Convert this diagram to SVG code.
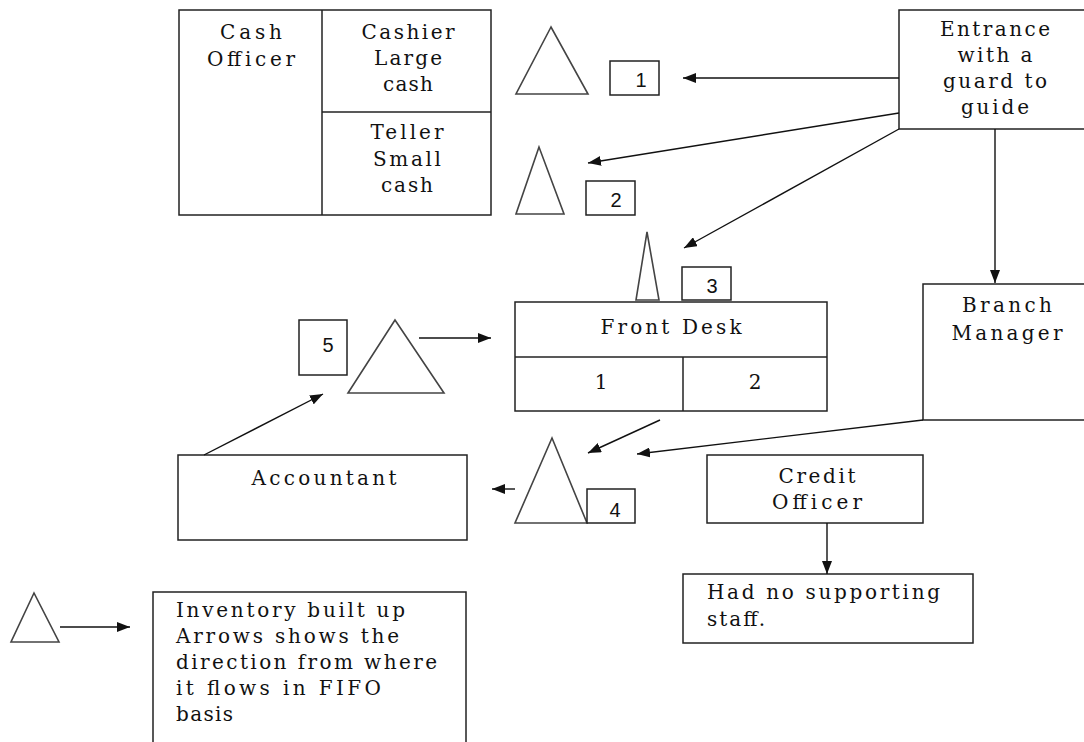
<svg xmlns="http://www.w3.org/2000/svg" width="1084" height="742" viewBox="0 0 1084 742">
<style>
.box{fill:#fff;stroke:#222;stroke-width:1.5}
.tri{fill:#fff;stroke:#444;stroke-width:1.6;stroke-linejoin:miter}
.t{font-family:"DejaVu Serif","Liberation Serif",serif;font-size:20px;fill:#111;text-anchor:middle}
.tl{font-family:"DejaVu Serif","Liberation Serif",serif;font-size:20px;fill:#111}
.n{font-family:"Liberation Sans",Arial,sans-serif;font-size:20px;fill:#111;text-anchor:middle}
.c{stroke:#111;stroke-width:1.4;fill:none;marker-end:url(#ah)}
</style>
<defs>
<marker id="ah" markerUnits="userSpaceOnUse" markerWidth="13" markerHeight="10" refX="13" refY="5" orient="auto">
<path d="M0,0 L13,5 L0,10 z" fill="#111"/>
</marker>
</defs>
<rect width="1084" height="742" fill="#fff"/>

<g id="cash-block">
<rect class="box" x="179" y="10" width="312" height="205"/>
<line x1="322" y1="10" x2="322" y2="215" stroke="#222" stroke-width="1.5"/>
<line x1="322" y1="112" x2="491" y2="112" stroke="#222" stroke-width="1.5"/>
<text class="t" x="251" y="39" textLength="62" lengthAdjust="spacing">Cash</text>
<text class="t" x="251" y="66" textLength="88" lengthAdjust="spacing">Officer</text>
<text class="t" x="408" y="39" textLength="93" lengthAdjust="spacing">Cashier</text>
<text class="t" x="408" y="65" textLength="68" lengthAdjust="spacing">Large</text>
<text class="t" x="408" y="91" textLength="50" lengthAdjust="spacing">cash</text>
<text class="t" x="407" y="139" textLength="73" lengthAdjust="spacing">Teller</text>
<text class="t" x="407" y="166" textLength="68" lengthAdjust="spacing">Small</text>
<text class="t" x="407" y="192" textLength="52" lengthAdjust="spacing">cash</text>
</g>

<g id="queue1">
<polygon class="tri" points="551,27 516,94 588,94"/>
<rect class="box" x="610" y="61" width="49" height="34"/>
<text class="n" x="641" y="87">1</text>
</g>
<g id="queue2">
<polygon class="tri" points="539,147 516,214 564,214"/>
<rect class="box" x="586" y="181" width="49" height="34"/>
<text class="n" x="616" y="207">2</text>
</g>
<g id="queue3">
<polygon class="tri" points="647,232 636,300 659,300"/>
<rect class="box" x="682" y="267" width="49" height="33"/>
<text class="n" x="712" y="293">3</text>
</g>
<g id="queue4">
<polygon class="tri" points="552,438 515,523 587,523"/>
<rect class="box" x="587" y="489" width="48" height="34"/>
<text class="n" x="615" y="517">4</text>
</g>
<g id="queue5">
<polygon class="tri" points="395,320 348,393 444,393"/>
<rect class="box" x="299" y="320" width="48" height="55"/>
<text class="n" x="328" y="352">5</text>
</g>

<g id="entrance">
<rect class="box" x="899" y="10" width="195" height="119"/>
<text class="t" x="995" y="36" textLength="110" lengthAdjust="spacing">Entrance</text>
<text class="t" x="995" y="62" textLength="75" lengthAdjust="spacing">with a</text>
<text class="t" x="995" y="88" textLength="104" lengthAdjust="spacing">guard to</text>
<text class="t" x="995" y="114" textLength="68" lengthAdjust="spacing">guide</text>
</g>

<g id="branch-manager">
<rect class="box" x="923" y="284" width="171" height="136"/>
<text class="t" x="1007" y="312" textLength="90" lengthAdjust="spacing">Branch</text>
<text class="t" x="1007" y="340" textLength="111" lengthAdjust="spacing">Manager</text>
</g>

<g id="front-desk">
<rect class="box" x="515" y="302" width="312" height="109"/>
<line x1="515" y1="357" x2="827" y2="357" stroke="#222" stroke-width="1.5"/>
<line x1="683" y1="357" x2="683" y2="411" stroke="#222" stroke-width="1.5"/>
<text class="t" x="671" y="334" textLength="141" lengthAdjust="spacing">Front Desk</text>
<text class="t" x="601" y="389">1</text>
<text class="t" x="755" y="389">2</text>
</g>

<g id="accountant">
<rect class="box" x="178" y="455" width="289" height="85"/>
<text class="t" x="324" y="485" textLength="145" lengthAdjust="spacing">Accountant</text>
</g>

<g id="credit-officer">
<rect class="box" x="707" y="455" width="216" height="68"/>
<text class="t" x="817" y="483" textLength="77" lengthAdjust="spacing">Credit</text>
<text class="t" x="817" y="509" textLength="90" lengthAdjust="spacing">Officer</text>
</g>

<g id="no-staff">
<rect class="box" x="683" y="574" width="290" height="69"/>
<text class="tl" x="707" y="599" textLength="233" lengthAdjust="spacing">Had no supporting</text>
<text class="tl" x="707" y="626" textLength="58" lengthAdjust="spacing">staff.</text>
</g>

<g id="legend">
<polygon class="tri" points="34,593 11,642 59,642"/>
<rect class="box" x="153" y="592" width="313" height="160"/>
<text class="tl" x="176" y="617" textLength="229" lengthAdjust="spacing">Inventory built up</text>
<text class="tl" x="176" y="643" textLength="223" lengthAdjust="spacing">Arrows shows the</text>
<text class="tl" x="176" y="669" textLength="261" lengthAdjust="spacing">direction from where</text>
<text class="tl" x="176" y="695" textLength="205" lengthAdjust="spacing">it flows in FIFO</text>
<text class="tl" x="176" y="721" textLength="57" lengthAdjust="spacing">basis</text>
</g>

<g id="connectors">
<line class="c" x1="899" y1="78" x2="683" y2="78"/>
<line class="c" x1="899" y1="113" x2="588" y2="163"/>
<line class="c" x1="899" y1="129" x2="684" y2="248"/>
<line class="c" x1="995" y1="129" x2="995" y2="283"/>
<line class="c" x1="923" y1="420" x2="637" y2="454"/>
<line class="c" x1="660" y1="420" x2="588" y2="453"/>
<line class="c" x1="515" y1="489" x2="492" y2="489"/>
<line class="c" x1="204" y1="455" x2="323" y2="394"/>
<line class="c" x1="419" y1="338" x2="491" y2="338"/>
<line class="c" x1="827" y1="523" x2="827" y2="574"/>
<line class="c" x1="60" y1="627" x2="130" y2="627"/>
</g>
</svg>
